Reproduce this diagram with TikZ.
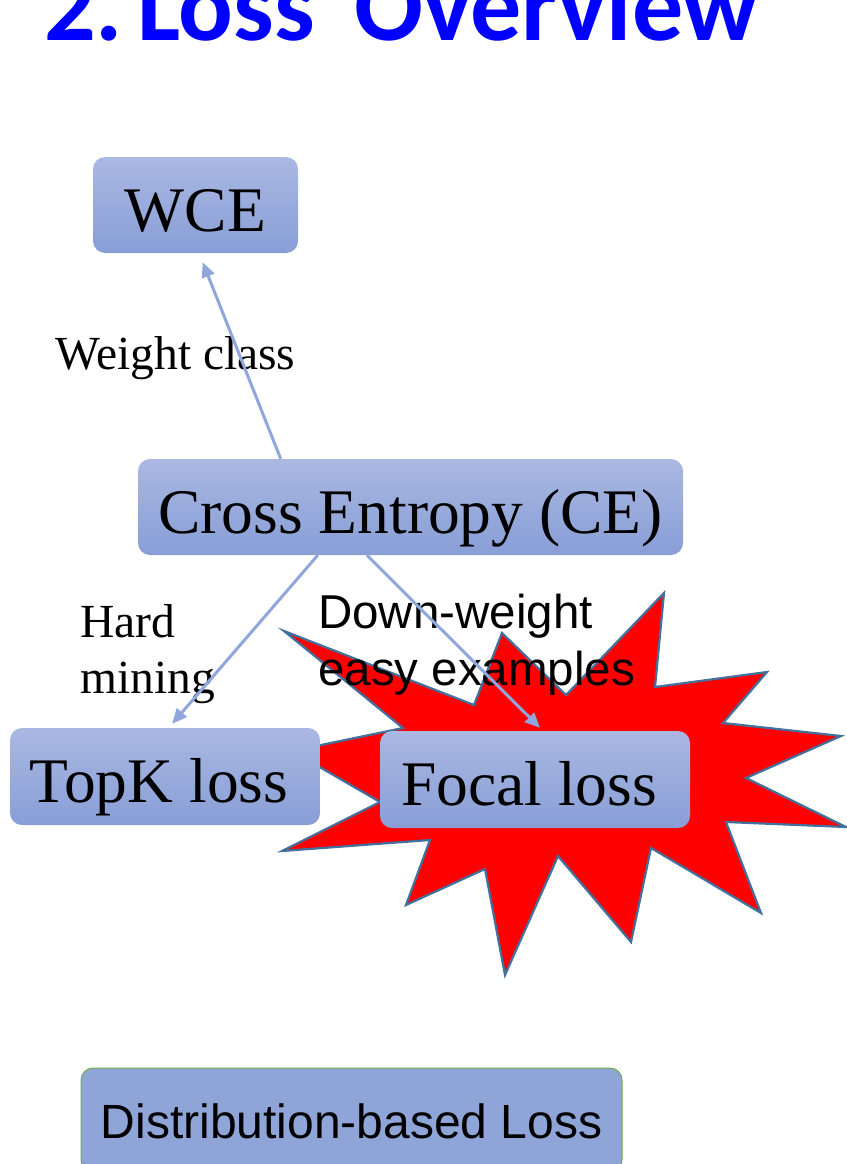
\documentclass[tikz,border=0pt]{standalone}
\usepackage{fontspec}
\setmainfont{Liberation Serif}
\newfontfamily\arialfont{Liberation Sans}
\newfontfamily\headfont{Carlito}
\usetikzlibrary{arrows.meta,calc}

\definecolor{boxtop}{RGB}{170,184,226}
\definecolor{boxbot}{RGB}{136,158,214}
\definecolor{arrowblue}{RGB}{143,167,220}
\definecolor{starline}{RGB}{65,113,156}
\definecolor{starfill}{RGB}{255,0,0}
\definecolor{distfill}{RGB}{143,165,216}
\definecolor{distline}{RGB}{112,173,71}
\definecolor{headblue}{RGB}{0,0,255}

\begin{document}
\begin{tikzpicture}[x=1pt,y=-1pt,
  lossbox/.style={rounded corners=12pt, top color=boxtop, bottom color=boxbot,
    draw=none, inner sep=0pt, font=\fontsize{63.5}{70}\selectfont,
    text height=68pt, text depth=16pt},
  distbox/.style={rounded corners=12pt, fill=distfill, draw=distline,
    line width=1pt, inner sep=0pt, font=\arialfont\fontsize{48}{56}\selectfont,
    text height=36pt, text depth=0pt},
  serifnote/.style={inner sep=0pt, align=left, font=\fontsize{47.5}{56}\selectfont},
  sansnote/.style={inner sep=0pt, align=left, font=\arialfont\fontsize{47.5}{57}\selectfont},
  link/.style={draw=arrowblue, line width=3pt,
    -{Triangle[length=15pt,width=13pt]}},
  burst/.style={fill=starfill, draw=starline, line width=2.2pt, line join=miter}
]
\useasboundingbox (0,0) rectangle (846,1164);

% heading
\node[anchor=base west, inner sep=0pt, text=headblue,
      font=\headfont\bfseries\fontsize{102}{110}\selectfont] (heading) at (44,41)
      {2.\kern-9pt\ Loss\kern16pt\ Overview};

% explosion behind the focal loss box
\draw[burst] (284,631) -- (474,705) -- (502,633) -- (566,695) -- (664,593)
  -- (655,687) -- (767,672) -- (723,723) -- (841,736) -- (746,778)
  -- (846,827) -- (726,822) -- (761,913) -- (651,848) -- (631,942)
  -- (558,856) -- (505,975) -- (485,869) -- (406,905) -- (430,840)
  -- (282,851) -- (380,802) -- (292,751) -- (403,728) -- cycle;

% loss boxes
\node[lossbox, minimum width=205pt, minimum height=96pt] (wce) at (195.5,205) {WCE};
\node[lossbox, minimum width=545pt, minimum height=96pt] (ce) at (410.5,507) {Cross Entropy (CE)};
\node[lossbox, minimum width=310pt, minimum height=97pt] (topk) at (165,776.5) {TopK loss\kern12pt};
\node[lossbox, minimum width=310pt, minimum height=97pt] (focal) at (535,779.5) {Focal loss\kern12pt};
\node[distbox, minimum width=541pt, minimum height=104pt] (dist) at (351.5,1120) {Distribution-based Loss};

% connector labels (base anchor sits on the last line)
\node[serifnote, anchor=base west] (wlabel) at (55,369) {Weight class};
\node[serifnote, anchor=base west] (hlabel) at (80,693) {Hard\\mining};
\node[sansnote, anchor=base west] (dlabel) at (318,685) {Down-weight\\easy examples};

% connectors
\draw[link] ($(ce.north west)!0.262!(ce.north east)$) -- ($(wce.south west)!0.535!(wce.south east)+(0,9)$);
\draw[link] ($(ce.south west)!0.330!(ce.south east)$) -- ($(topk.north west)!0.523!(topk.north east)+(0,-4)$);
\draw[link] ($(ce.south west)!0.420!(ce.south east)$) -- ($(focal.north west)!0.516!(focal.north east)+(0,-3)$);
\end{tikzpicture}
\end{document}
